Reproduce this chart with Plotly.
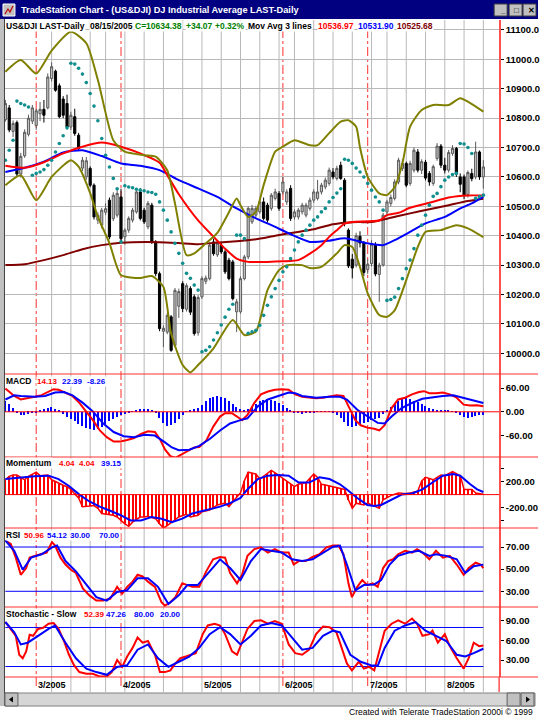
import plotly.graph_objects as go

# ---------------- data ----------------
# bar 0 = 2005-02-16 ... bar 124 = 2005-08-15 (daily trading bars)
opens = [10795, 10835, 10755, 10785, 10610, 10672, 10745, 10790, 10775, 10815,
         10830, 10835, 10935, 10960, 10910, 10865, 10850, 10770, 10805, 10742,
         10630, 10600, 10629, 10572, 10453, 10436, 10480, 10521, 10458, 10470,
         10532, 10396, 10419, 10453, 10481, 10549, 10487, 10430, 10504, 10379,
         10271, 10075, 10072, 10124, 10027, 10160, 10237, 10150, 10220, 10192,
         10070, 10192, 10245, 10254, 10379, 10335, 10368, 10345, 10317, 10311,
         10141, 10141, 10254, 10328, 10447, 10470, 10481, 10515, 10504, 10493,
         10527, 10544, 10549, 10515, 10561, 10464, 10464, 10481, 10470, 10493,
         10521, 10527, 10549, 10566, 10578, 10617, 10595, 10640, 10589, 10419,
         10320, 10300, 10398, 10375, 10285, 10305, 10370, 10268, 10300, 10481,
         10510, 10527, 10583, 10629, 10646, 10578, 10623, 10685, 10623, 10650,
         10612, 10578, 10663, 10705, 10640, 10623, 10680, 10697, 10600, 10600,
         10540, 10612, 10600, 10685, 10600]
highs = [10862, 10845, 10792, 10792, 10682, 10762, 10812, 10845, 10832, 10855,
         10862, 10952, 10990, 10965, 10918, 10875, 10880, 10822, 10832, 10750,
         10668, 10668, 10636, 10578, 10480, 10495, 10510, 10530, 10548, 10560,
         10560, 10425, 10466, 10495, 10558, 10562, 10495, 10518, 10512, 10385,
         10278, 10095, 10138, 10130, 10222, 10220, 10245, 10238, 10228, 10200,
         10198, 10262, 10265, 10376, 10390, 10382, 10378, 10352, 10325, 10318,
         10185, 10262, 10335, 10500, 10505, 10502, 10525, 10530, 10512, 10545,
         10560, 10552, 10600, 10558, 10572, 10490, 10495, 10512, 10512, 10530,
         10558, 10590, 10580, 10598, 10632, 10630, 10638, 10652, 10596, 10425,
         10338, 10410, 10415, 10382, 10320, 10385, 10378, 10308, 10478, 10522,
         10540, 10592, 10665, 10660, 10652, 10655, 10700, 10695, 10660, 10658,
         10620, 10642, 10715, 10712, 10665, 10692, 10708, 10702, 10612, 10608,
         10622, 10628, 10720, 10690, 10657]
lows = [10788, 10752, 10736, 10602, 10598, 10665, 10738, 10780, 10760, 10790,
        10785, 10830, 10925, 10890, 10800, 10800, 10762, 10760, 10740, 10690,
        10620, 10590, 10565, 10455, 10440, 10425, 10470, 10388, 10450, 10462,
        10382, 10370, 10410, 10445, 10475, 10452, 10440, 10422, 10372, 10262,
        10075, 10021, 10065, 10005, 10020, 10120, 10140, 10142, 10130, 10060,
        10060, 10185, 10235, 10248, 10332, 10328, 10338, 10270, 10248, 10180,
        10072, 10135, 10248, 10320, 10440, 10462, 10475, 10452, 10445, 10485,
        10520, 10485, 10540, 10505, 10450, 10455, 10455, 10472, 10462, 10485,
        10512, 10520, 10540, 10558, 10570, 10592, 10588, 10590, 10432, 10290,
        10255, 10292, 10360, 10262, 10270, 10296, 10262, 10175, 10295, 10472,
        10500, 10520, 10575, 10620, 10565, 10570, 10615, 10615, 10610, 10588,
        10570, 10570, 10655, 10630, 10612, 10615, 10672, 10600, 10548, 10525,
        10530, 10585, 10592, 10590, 10560]
closes = [10850, 10760, 10782, 10610, 10670, 10752, 10800, 10835, 10825, 10830,
          10810, 10940, 10975, 10895, 10805, 10810, 10770, 10810, 10748, 10697,
          10657, 10655, 10572, 10464, 10470, 10487, 10492, 10396, 10538, 10544,
          10390, 10419, 10459, 10487, 10549, 10459, 10447, 10510, 10379, 10271,
          10084, 10085, 10129, 10010, 10214, 10210, 10152, 10230, 10140, 10067,
          10190, 10254, 10256, 10368, 10339, 10375, 10345, 10277, 10254, 10186,
          10175, 10254, 10328, 10493, 10493, 10493, 10515, 10459, 10453, 10538,
          10549, 10493, 10583, 10549, 10459, 10481, 10487, 10504, 10504, 10521,
          10549, 10549, 10572, 10589, 10623, 10600, 10629, 10595, 10441, 10297,
          10290, 10400, 10375, 10275, 10303, 10371, 10270, 10300, 10470, 10515,
          10530, 10583, 10657, 10646, 10572, 10646, 10691, 10623, 10652, 10596,
          10583, 10635, 10705, 10640, 10623, 10683, 10697, 10610, 10575, 10536,
          10615, 10594, 10685, 10600, 10634]

# three moving averages (sampled along the curves)
ma_fast_bar = [0, 5, 10, 15, 20, 25, 30, 35, 40, 42, 45, 50, 55, 57, 60, 63, 68, 72, 76,
               79, 82, 84, 86, 88, 90, 97, 99, 102, 105, 110, 115, 120, 124]
ma_fast = [10638, 10631, 10650, 10680, 10703, 10717, 10703, 10680, 10648, 10606, 10541,
           10452, 10383, 10356, 10322, 10311, 10311, 10313, 10317, 10339, 10368, 10396,
           10419, 10441, 10447, 10452, 10470, 10478, 10495, 10512, 10530, 10537, 10537]
ma_mid_bar = [0, 5, 10, 15, 20, 25, 30, 35, 40, 45, 50, 55, 60, 65, 68, 70, 74, 79, 84,
              88, 94, 98, 101, 105, 109, 114, 118, 121, 124]
ma_mid = [10617, 10631, 10652, 10683, 10691, 10671, 10646, 10638, 10623, 10589, 10561,
          10532, 10493, 10459, 10442, 10430, 10405, 10379, 10383, 10391, 10374, 10368,
          10385, 10413, 10442, 10464, 10493, 10510, 10532]
ma_slow_bar = [0, 5, 10, 15, 20, 25, 30, 40, 45, 50, 55, 60, 65, 70, 75, 80, 85, 90, 95,
               100, 105, 110, 115, 120, 124]
ma_slow = [10300, 10303, 10317, 10334, 10354, 10368, 10376, 10378, 10375, 10371, 10377,
           10381, 10388, 10400, 10411, 10422, 10439, 10446, 10447, 10461, 10476, 10490,
           10504, 10518, 10526]

# bollinger bands
bb_up_bar = [0, 4, 8, 12, 17, 21, 24, 28, 31, 36, 39, 42, 44, 47, 49, 52, 55, 58, 60, 61,
             63, 65, 67, 70, 72, 75, 79, 81, 84, 87, 89, 91, 92, 94, 97, 99, 101, 103, 105,
             108, 111, 115, 118, 120, 124]
bb_up = [10958, 10998, 10952, 11030, 11094, 11055, 10930, 10725, 10686, 10674, 10669,
         10623, 10510, 10334, 10340, 10374, 10410, 10480, 10527, 10504, 10464, 10481,
         10572, 10686, 10703, 10725, 10708, 10708, 10749, 10788, 10793, 10771, 10700,
         10600, 10544, 10538, 10566, 10646, 10771, 10828, 10845, 10845, 10868, 10856, 10822]
bb_dn_bar = [0, 4, 8, 12, 17, 19, 22, 24, 27, 30, 35, 38, 41, 43, 46, 48, 50, 54, 59, 62,
             65, 68, 71, 73, 77, 79, 82, 86, 88, 90, 92, 94, 97, 99, 101, 104, 107, 109,
             113, 117, 120, 124]
bb_dn = [10572, 10606, 10521, 10600, 10657, 10635, 10545, 10464, 10375, 10266, 10256,
         10263, 10226, 10067, 9960, 9935, 9960, 10017, 10113, 10062, 10074, 10215, 10283,
         10300, 10300, 10290, 10294, 10340, 10368, 10362, 10294, 10204, 10130, 10124,
         10146, 10249, 10362, 10413, 10419, 10436, 10425, 10395]

# parabolic SAR, one dot per bar
sar = [10657, 10691, 10725, 10858, 10850, 10845, 10838, 10606, 10612, 10617,
       10625, 10640, 10657, 10685, 10714, 10740, 10767, 10987, 10984, 10970,
       10950, 10921, 10884, 10841, 10791, 10731, 10674, 10634, 10595, 10560,
       10379, 10570, 10566, 10563, 10558, 10555, 10553, 10549, 10547, 10541,
       10515, 10487, 10453, 10413, 10374, 10340, 10306, 10272, 10255, 10232,
       10215, 10005, 10010, 10022, 10045, 10070, 10096, 10123, 10150, 10167,
       10402, 10402, 10390, 10068, 10073, 10078, 10095, 10129, 10163, 10192,
       10220, 10248, 10277, 10294, 10322, 10351, 10379, 10402, 10419, 10436,
       10453, 10464, 10481, 10493, 10515, 10530, 10545, 10560, 10660, 10657,
       10646, 10630, 10617, 10600, 10578, 10555, 10532, 10515, 10487, 10180,
       10183, 10191, 10220, 10254, 10288, 10317, 10356, 10402, 10436, 10470,
       10504, 10534, 10544, 10567, 10589, 10600, 10608, 10612, 10714, 10712,
       10700, 10680, 10527, 10533, 10538]

# MACD
macd_bar = [0.0, 2.3, 4.0, 5.8, 7.6, 9.4, 11.2, 12.5, 13.8, 15.6, 17.4, 19.2, 21.0, 22.7,
            24.5, 26.3, 28.1, 29.9, 31.6, 33.4, 35.2, 37.0, 38.8, 40.1, 41.4, 42.8, 44.1,
            45.4, 47.2, 49.0, 50.3, 52.1, 53.9, 55.7, 57.0, 58.8, 60.1, 61.4, 62.8, 64.6,
            66.3, 68.1, 69.9, 71.7, 73.5, 75.2, 77.0, 78.8, 80.6, 82.4, 84.1, 85.9, 87.7,
            88.6, 89.5, 90.8, 92.2, 93.9, 95.7, 97.0, 98.4, 100.2, 101.9, 103.7, 105.5,
            107.3, 108.6, 110.0, 111.7, 113.5, 115.3, 117.1, 118.9, 120.6, 122.4, 124.0]
macd = [59, 40, 31, 34, 38, 42, 50, 57, 55.5, 48.6, 40, 22.5, 1, -21, -47, -64, -75, -75,
        -71, -66, -56, -49, -51, -69, -95, -112, -116, -109, -99, -90, -89, -73, -38, -12,
        -3.5, -3.5, -12, -21, -8, 22.5, 44, 51, 55.5, 57, 55.5, 44, 38, 35.5, 34, 35.5, 38,
        41.6, 40, 22.5, 1, -21, -34, -40, -42.6, -47, -34, 9.5, 31, 35.5, 44, 50, 52, 47,
        47, 48.6, 44, 35.5, 18, 15.6, 16.4, 14.1]
macd_sig_bar = [0.0, 2.3, 4.0, 7.6, 10.3, 12.9, 15.2, 17.4, 20.1, 22.7, 25.4, 28.1, 30.7,
                33.4, 36.1, 38.8, 41.4, 43.2, 45.0, 47.7, 50.3, 53.0, 55.7, 58.3, 61.0,
                62.8, 65.5, 68.1, 70.8, 73.5, 75.2, 77.0, 80.6, 84.1, 86.8, 88.6, 91.3,
                93.9, 96.6, 98.4, 100.2, 102.8, 105.5, 108.2, 110.8, 113.5, 116.2, 118.9,
                121.5, 124.0]
macd_sig = [31, 41.6, 40, 38, 40, 48.6, 50, 41.6, 22.5, 1, -29.6, -51, -61.7, -64, -58,
            -60, -77, -90, -97, -95.5, -86, -68.6, -47, -29.6, -21, -16.5, 13.8, 31, 40,
            48.6, 47, 40, 35.5, 38, 38, 31, 5, -12, -28, -29.6, -12, 9.5, 22.5, 33, 37, 40,
            41.6, 35.5, 28.6, 22.4]
macd_hist = [28, 20, 10, -3, -8, -8, -5, -3, -1, 3, 6, 9, 12, 8, 3, -5, -12, -18, -24, -30,
             -36, -40, -44, -47, -44, -38, -30, -24, -18, -12, -8, -6, -4, 2, 5, 7, 8, 7, 4,
             -4, -15, -28, -35, -33, -28, -18, -8, 2, 5, 6, 10, 18, 26, 34, 38, 40, 38, 35,
             28, 20, 12, 8, 5, 8, 12, 20, 26, 30, 32, 30, 26, 22, 16, 10, 4, -2, -4, -5, -4,
             -3, -2, 1, 2, 2, 1, -3, -8, -15, -25, -35, -38, -35, -30, -28, -25, -20, -18,
             -15, -5, 5, 12, 20, 28, 33, 35, 32, 28, 24, 20, 15, 10, 6, 5, 4, 4, 3, 1, -3,
             -8, -14, -16, -12, -10, -9, -8]

# Momentum (one value per bar) and its average
momentum = [226, 279, 300, 300, 263, 226, 280, 315, 342, 289, 295, 300, 226, 195, 165, 142,
            121, 79, 10, -52, -184, -184, -175, -168, -210, -289, -295, -300, -315, -342,
            -400, -447, -484, -421, -380, -342, -342, -331, -350, -368, -447, -510, -473,
            -430, -394, -342, -320, -300, -342, -330, -315, -263, -250, -237, -200, -158,
            -145, -131, -184, -105, -40, 26, 210, 342, 330, 315, 237, 280, 315, 368, 330,
            289, 247, 210, 165, 121, 158, 170, 184, 250, 315, 263, 158, 145, 131, 118, 105,
            92, 79, -79, -210, -131, -145, -158, -131, -158, -184, -210, -79, -45, -16, 5,
            26, 20, 16, 26, 40, 53, 210, 263, 245, 226, 263, 300, 289, 320, 352, 320, 289,
            79, 79, 79, 26, 15, 4]
mom_avg_bar = [0.0, 4.0, 7.6, 11.2, 13.8, 16.5, 19.2, 21.8, 24.5, 27.2, 29.9, 32.5, 35.2,
               37.9, 40.5, 43.2, 45.9, 48.5, 52.1, 55.7, 58.3, 61.0, 62.8, 65.5, 68.1, 70.8,
               73.5, 76.1, 78.8, 81.5, 84.1, 86.8, 88.6, 91.3, 93.9, 95.7, 97.5, 100.2,
               102.8, 105.5, 108.2, 110.8, 113.5, 116.2, 118.0, 120.6, 122.4, 124.0]
mom_avg = [237, 263, 279, 289, 237, 131, 0, -105, -184, -247, -315, -394, -394, -342, -368,
           -421, -368, -289, -237, -184, -131, -52, 79, 237, 289, 300, 289, 184, 184, 263,
           237, 158, 79, -52, -158, -173, -158, -79, 0, 16, 79, 184, 289, 315, 289, 158, 79,
           39]

# RSI
rsi_bar = [0.0, 1.4, 2.7, 4.0, 5.4, 6.3, 7.6, 9.4, 10.7, 12.1, 12.9, 14.3, 15.6, 17.0,
           18.3, 20.1, 21.8, 23.6, 25.4, 27.2, 29.0, 30.3, 31.6, 33.0, 34.3, 35.6, 37.0,
           38.8, 40.5, 41.4, 42.8, 44.1, 45.9, 47.2, 48.5, 50.3, 52.1, 53.9, 55.7, 57.0,
           58.3, 60.1, 61.4, 62.8, 64.6, 66.3, 68.1, 69.9, 71.7, 73.5, 74.8, 76.1, 77.9,
           79.7, 81.5, 83.3, 85.0, 86.4, 87.7, 89.0, 89.9, 91.3, 92.6, 93.9, 95.3, 96.6,
           98.0, 99.3, 100.6, 101.9, 103.7, 105.5, 106.8, 108.2, 110.0, 111.7, 113.5,
           115.3, 117.1, 118.9, 120.2, 122.0, 123.3, 124.0]
rsi = [75.9, 72.8, 60.4, 44.9, 51.0, 60.4, 62.0, 63.5, 65.0, 74.4, 71.3, 60.4, 54.2, 49.5,
       46.5, 32.5, 26.3, 21.6, 21.6, 23.2, 34.0, 27.9, 34.0, 38.7, 44.9, 43.4, 38.7, 34.0,
       20.1, 17.0, 20.1, 24.7, 37.2, 35.6, 34.0, 34.0, 48.0, 58.9, 61.0, 60.4, 46.5, 37.2,
       44.9, 62.0, 68.1, 69.7, 65.0, 68.1, 65.0, 65.0, 54.2, 57.3, 57.3, 61.0, 63.5, 69.7,
       71.3, 71.3, 63.5, 37.2, 24.7, 34.0, 40.2, 35.6, 37.2, 34.0, 51.0, 57.3, 58.9, 63.5,
       66.6, 65.0, 68.1, 65.0, 58.9, 66.6, 60.4, 62.0, 54.2, 44.9, 51.0, 55.8, 54.2, 51.0]
rsi_avg_bar = [0.0, 2.3, 4.5, 6.7, 9.4, 12.1, 13.4, 15.6, 18.3, 21.0, 23.6, 26.3, 29.0,
               31.6, 34.3, 37.0, 39.6, 42.3, 45.0, 47.2, 49.9, 53.0, 55.7, 58.3, 61.0, 63.7,
               66.3, 69.0, 71.7, 74.4, 77.0, 79.7, 82.4, 85.0, 86.8, 88.6, 90.8, 93.0, 95.7,
               97.5, 99.7, 101.9, 104.6, 107.3, 110.0, 111.7, 114.4, 117.1, 119.3, 121.5,
               124.0]
rsi_avg = [75.9, 66.6, 49.5, 60.4, 63.5, 69.7, 71.3, 57.3, 48.0, 35.6, 24.7, 21.6, 29.4,
           31.0, 41.8, 41.8, 34.0, 18.6, 26.3, 35.6, 35.6, 48.0, 58.9, 51.0, 40.2, 57.3,
           68.1, 66.6, 65.0, 58.9, 57.3, 58.9, 65.0, 70.3, 71.3, 54.2, 30.9, 35.6, 36.2,
           40.2, 54.2, 62.0, 65.0, 66.6, 62.0, 63.5, 62.0, 58.9, 46.5, 52.7, 54.1]
rsi_levels = [30.0, 70.0]

# Stochastic slow
stk_bar = [0.0, 1.4, 2.7, 3.6, 4.5, 5.4, 6.3, 7.2, 8.5, 9.8, 11.2, 12.5, 13.8, 15.2, 16.5,
           17.8, 19.2, 21.0, 22.7, 24.5, 26.3, 27.6, 29.0, 30.3, 31.6, 33.0, 34.3, 35.6,
           37.0, 38.8, 40.1, 41.4, 42.8, 44.1, 45.4, 46.8, 48.1, 49.4, 51.2, 52.5, 54.3,
           55.7, 57.0, 58.8, 60.1, 61.4, 62.8, 64.6, 66.3, 68.1, 69.9, 71.7, 73.5, 75.2,
           77.0, 78.8, 80.6, 82.4, 84.1, 85.9, 87.3, 88.6, 89.9, 91.7, 93.0, 94.4, 95.7,
           97.0, 98.4, 100.2, 101.9, 103.7, 105.5, 106.8, 108.2, 110.0, 110.8, 112.2, 114.0,
           115.3, 117.1, 118.9, 120.2, 121.5, 122.9, 124.0]
stk = [88.4, 77.8, 67.2, 38.0, 32.7, 43.3, 68.8, 67.2, 77.8, 79.4, 85.8, 86.8, 77.8, 59.2,
       38.0, 22.0, 11.4, 8.8, 8.8, 4.5, 4.5, 11.4, 30.0, 19.4, 35.3, 48.6, 64.5, 56.6, 59.2,
       38.0, 11.4, 11.4, 14.0, 24.7, 32.7, 35.3, 38.0, 40.6, 69.8, 83.1, 85.8, 83.1, 69.8,
       43.3, 38.0, 56.6, 77.8, 90.0, 91.0, 85.8, 90.0, 85.8, 53.9, 40.6, 38.0, 45.9, 69.8,
       81.5, 80.5, 72.5, 48.6, 24.7, 14.0, 27.3, 16.7, 19.4, 14.0, 43.3, 75.1, 85.8, 91.0,
       85.8, 93.7, 85.8, 67.2, 69.8, 75.1, 56.6, 69.8, 51.3, 32.7, 16.7, 32.7, 56.6, 51.3,
       52.4]
std_bar = [0.0, 2.3, 4.0, 5.8, 8.5, 11.2, 12.9, 15.6, 18.3, 21.0, 23.6, 26.3, 29.0, 31.6,
           34.3, 37.0, 39.6, 42.3, 45.0, 47.7, 50.3, 53.0, 55.7, 58.3, 61.0, 63.7, 66.3,
           69.0, 71.7, 74.4, 77.0, 79.7, 82.4, 85.0, 86.8, 89.5, 92.2, 94.8, 96.6, 98.4,
           101.0, 103.7, 106.4, 109.0, 111.7, 114.4, 117.1, 119.3, 121.5, 124.0]
std = [88.4, 72.5, 53.9, 56.6, 67.2, 77.8, 83.1, 56.6, 32.7, 16.7, 11.4, 7.2, 19.4, 22.0,
       45.9, 53.9, 32.7, 19.4, 27.3, 35.3, 48.6, 69.8, 80.5, 69.8, 53.9, 67.2, 83.1, 86.8,
       83.1, 64.5, 45.9, 48.6, 67.2, 75.1, 72.5, 38.0, 27.3, 22.0, 21.0, 48.6, 75.1, 83.1,
       88.4, 75.1, 67.2, 59.2, 38.0, 35.3, 40.6, 47.3]
stoch_levels = [20.0, 80.0]

# axis / calendar
month_bars = [8, 30, 51, 72, 94, 114]
month_labels = ['3/2005', '4/2005', '5/2005', '6/2005', '7/2005', '8/2005']
week_bars = [12, 17, 22, 26, 31, 36, 41, 46, 51, 56, 61, 66, 71, 75, 80, 85, 90, 95, 99,
             104, 109, 114, 119, 124]
red_marker_bars = [8, 30, 72, 94]

price_ticks = [10000, 10100, 10200, 10300, 10400, 10500, 10600, 10700, 10800, 10900,
               11000, 11100]
macd_ticks = [60, 0, -60]
mom_ticks = [400, 200, -200, -400]
rsi_ticks = [70, 50, 30]
stoch_ticks = [90, 60, 30]

# ---------------- figure ----------------
W, H = 540, 718
FONT = "Liberation Sans, Arial, sans-serif"
RED = '#ff0000'
BLUE = '#0000ff'
DKRED = '#800000'
OLIVE = '#808000'
GRID = '#b8b8b8'


def fx(p):
    return p / W


def fy(p):
    return 1 - p / H


bars = list(range(len(closes)))
fig = go.Figure()

fig.add_trace(go.Candlestick(
    x=bars, open=opens, high=highs, low=lows, close=closes,
    increasing=dict(line=dict(color='#5a5a5a', width=1), fillcolor='#c4c4c4'),
    decreasing=dict(line=dict(color='#000000', width=1), fillcolor='#000000'),
    whiskerwidth=0, xaxis='x', yaxis='y', showlegend=False, hoverinfo='skip'))

for bx, vals, col in [(ma_slow_bar, ma_slow, DKRED), (ma_mid_bar, ma_mid, BLUE),
                      (ma_fast_bar, ma_fast, RED), (bb_up_bar, bb_up, OLIVE),
                      (bb_dn_bar, bb_dn, OLIVE)]:
    fig.add_trace(go.Scatter(x=bx, y=vals, mode='lines',
                             line=dict(color=col, width=2, shape='spline', smoothing=0.6),
                             xaxis='x', yaxis='y', showlegend=False, hoverinfo='skip'))

fig.add_trace(go.Scatter(x=bars, y=sar, mode='markers',
                         marker=dict(color='#118e8e', size=3.6, symbol='circle'),
                         xaxis='x', yaxis='y', showlegend=False, hoverinfo='skip'))

# MACD
fig.add_trace(go.Bar(x=bars, y=macd_hist, width=0.35, marker=dict(color=BLUE, line=dict(width=0)),
                     xaxis='x', yaxis='y2', showlegend=False, hoverinfo='skip'))
fig.add_trace(go.Scatter(x=macd_bar, y=macd, mode='lines', line=dict(color=RED, width=2),
                         xaxis='x', yaxis='y2', showlegend=False, hoverinfo='skip'))
fig.add_trace(go.Scatter(x=macd_sig_bar, y=macd_sig, mode='lines', line=dict(color=BLUE, width=2),
                         xaxis='x', yaxis='y2', showlegend=False, hoverinfo='skip'))

# Momentum
fig.add_trace(go.Bar(x=bars, y=momentum, width=0.3, marker=dict(color=RED, line=dict(width=0)),
                     xaxis='x', yaxis='y3', showlegend=False, hoverinfo='skip'))
fig.add_trace(go.Scatter(x=bars, y=momentum, mode='lines', line=dict(color=RED, width=1.5),
                         xaxis='x', yaxis='y3', showlegend=False, hoverinfo='skip'))
fig.add_trace(go.Scatter(x=mom_avg_bar, y=mom_avg, mode='lines', line=dict(color=BLUE, width=2),
                         xaxis='x', yaxis='y3', showlegend=False, hoverinfo='skip'))

# RSI
fig.add_trace(go.Scatter(x=rsi_bar, y=rsi, mode='lines', line=dict(color=RED, width=2),
                         xaxis='x', yaxis='y4', showlegend=False, hoverinfo='skip'))
fig.add_trace(go.Scatter(x=rsi_avg_bar, y=rsi_avg, mode='lines', line=dict(color=BLUE, width=2),
                         xaxis='x', yaxis='y4', showlegend=False, hoverinfo='skip'))

# Stochastic
fig.add_trace(go.Scatter(x=stk_bar, y=stk, mode='lines', line=dict(color=RED, width=2),
                         xaxis='x', yaxis='y5', showlegend=False, hoverinfo='skip'))
fig.add_trace(go.Scatter(x=std_bar, y=std, mode='lines', line=dict(color=BLUE, width=2),
                         xaxis='x', yaxis='y5', showlegend=False, hoverinfo='skip'))


def yax(top, bottom, rng, tickvals, ticktext, grid=False):
    return dict(domain=[fy(bottom), fy(top)], range=rng, side='right', anchor='x',
                tickvals=tickvals, ticktext=ticktext, ticks='outside', ticklen=3,
                tickcolor='black', tickwidth=1,
                tickfont=dict(family=FONT, size=9.5, color='black', weight='bold'),
                showline=True, linecolor='#ff5050', linewidth=1.5,
                showgrid=grid, gridcolor=GRID, gridwidth=1, zeroline=False, fixedrange=True)


shapes = []
# weekly grid
for b in week_bars:
    shapes.append(dict(type='line', xref='x', yref='paper', x0=b, x1=b, y0=fy(692), y1=fy(20),
                       line=dict(color=GRID, width=1), layer='below'))
# month marker lines
for b in red_marker_bars:
    shapes.append(dict(type='line', xref='x', yref='paper', x0=b, x1=b, y0=fy(686), y1=fy(20),
                       line=dict(color='#ff3030', width=1, dash='dashdot'), layer='below'))
# zero lines
shapes.append(dict(type='line', xref='paper', yref='y2', x0=fx(5), x1=fx(501), y0=0, y1=0,
                   line=dict(color=RED, width=1)))
shapes.append(dict(type='line', xref='paper', yref='y3', x0=fx(5), x1=fx(501), y0=0, y1=0,
                   line=dict(color=RED, width=1)))
# RSI / stochastic levels
for lv in rsi_levels:
    shapes.append(dict(type='line', xref='x', yref='y4', x0=bars[0], x1=bars[-1], y0=lv, y1=lv,
                       line=dict(color=BLUE, width=1), layer='below'))
for lv in stoch_levels:
    shapes.append(dict(type='line', xref='x', yref='y5', x0=bars[0], x1=bars[-1], y0=lv, y1=lv,
                       line=dict(color=BLUE, width=1), layer='below'))
# panel separators
for yy in [374, 457, 528, 607, 677]:
    shapes.append(dict(type='line', xref='paper', yref='paper', x0=fx(5), x1=1, y0=fy(yy),
                       y1=fy(yy), line=dict(color='#ff3030', width=1)))
shapes.append(dict(type='line', xref='paper', yref='paper', x0=fx(501), x1=fx(501),
                   y0=fy(692), y1=fy(677), line=dict(color='#ff5050', width=1.5)))

# window chrome
shapes.append(dict(type='rect', xref='paper', yref='paper', x0=0, x1=1, y0=fy(19), y1=1,
                   fillcolor='#000080', line=dict(width=0)))
shapes.append(dict(type='rect', xref='paper', yref='paper', x0=fx(3), x1=fx(15), y0=fy(16),
                   y1=fy(4), fillcolor='#c0c0c0', line=dict(color='#ffffff', width=1)))
shapes.append(dict(type='path', xref='paper', yref='paper',
                   path=f'M {fx(5)} {fy(14)} L {fx(8)} {fy(9)} L {fx(10)} {fy(12)} L {fx(13)} {fy(6)}',
                   line=dict(color='#c00000', width=1.2)))
for bx0 in [496, 511, 525]:
    shapes.append(dict(type='rect', xref='paper', yref='paper', x0=fx(bx0), x1=fx(bx0 + 13),
                       y0=fy(16), y1=fy(4), fillcolor='#c0c0c0',
                       line=dict(color='#404040', width=1)))
shapes.append(dict(type='rect', xref='paper', yref='paper', x0=0, x1=fx(4), y0=fy(706),
                   y1=fy(19), fillcolor='#c0c0c0', line=dict(width=0)))
shapes.append(dict(type='line', xref='paper', yref='paper', x0=fx(4.5), x1=fx(4.5),
                   y0=fy(706), y1=fy(19), line=dict(color='#404040', width=1)))
# scrollbar
shapes.append(dict(type='rect', xref='paper', yref='paper', x0=fx(5), x1=fx(537), y0=fy(706),
                   y1=fy(693), fillcolor='#d6d6d6', line=dict(color='#808080', width=1)))
for bx0 in [5, 509, 523]:
    shapes.append(dict(type='rect', xref='paper', yref='paper', x0=fx(bx0), x1=fx(bx0 + 13),
                       y0=fy(706), y1=fy(693), fillcolor='#c0c0c0',
                       line=dict(color='#606060', width=1)))
shapes.append(dict(type='path', xref='paper', yref='paper',
                   path=f'M {fx(9)} {fy(699.5)} L {fx(13)} {fy(696.5)} L {fx(13)} {fy(702.5)} Z',
                   fillcolor='black', line=dict(width=0)))
shapes.append(dict(type='path', xref='paper', yref='paper',
                   path=f'M {fx(532)} {fy(699.5)} L {fx(528)} {fy(696.5)} L {fx(528)} {fy(702.5)} Z',
                   fillcolor='black', line=dict(width=0)))

ann = []


def label(text, x, y, color='black', size=8.5, bold=True, anchor='left', bg=None):
    t = f'<b>{text}</b>' if bold else text
    d = dict(text=t, x=fx(x), y=fy(y), xref='paper', yref='paper', xanchor=anchor,
             yanchor='middle', showarrow=False,
             font=dict(family=FONT, size=size, color=color))
    if bg:
        d['bgcolor'] = bg
        d['borderpad'] = 0
    ann.append(d)


label('TradeStation Chart - (US&DJI) DJ Industrial Average LAST-Daily', 19, 10, '#ffffff', 9.2)
for txt, x in [('_', 499.5, ), ('□', 513.5), ('✕', 527.5)]:
    label(txt, x, 10, 'black', 8)

header = [('US&DJI LAST-Daily', 5, 'black'), ('08/15/2005', 89, 'black'),
          ('C=10634.38', 134, '#008000'), ('+34.07', 186, '#008000'),
          ('+0.32%', 215, '#008000'), ('Mov Avg 3 lines', 248, 'black'),
          ('10536.97', 318, RED), ('10531.90', 358, BLUE), ('10525.68', 397, DKRED)]
for txt, x, c in header:
    label(txt, x, 26, c, 8.5, bg='white')

for row, y in [([('MACD', 5, 'black'), ('14.13', 36, RED), ('22.39', 61, BLUE),
                 ('-8.26', 86, BLUE)], 381),
               ([('Momentum', 5, 'black'), ('4.04', 58, RED), ('4.04', 78, RED),
                 ('39.15', 100, BLUE)], 463),
               ([('RSI', 5, 'black'), ('50.96', 23, RED), ('54.12', 46, BLUE),
                 ('30.00', 69, BLUE), ('70.00', 98, BLUE)], 535),
               ([('Stochastic - Slow', 5, 'black'), ('52.39', 83, RED), ('47.26', 105, BLUE),
                 ('80.00', 133, BLUE), ('20.00', 160, BLUE)], 614)]:
    for k, (txt, x, c) in enumerate(row):
        label(txt, x, y, c, 8.5 if k == 0 else 8, bg='white')

for b, t in zip(month_bars, month_labels):
    ann.append(dict(text=f'<b>{t}</b>', x=b, y=fy(685), xref='x', yref='paper',
                    xanchor='left', yanchor='middle', showarrow=False,
                    font=dict(family=FONT, size=9, color='black')))

label('Created with Telerate TradeStation 2000i © 1999', 537, 712, 'black', 8.5, bold=False,
      anchor='right')

fig.update_layout(
    width=W, height=H, margin=dict(l=0, r=0, t=0, b=0),
    paper_bgcolor='white', plot_bgcolor='white', showlegend=False, bargap=0, boxgap=0.2,
    xaxis=dict(domain=[fx(5), fx(501)], range=[-0.1, 128.1], anchor='y5',
               showticklabels=False, showgrid=False, zeroline=False, showline=False,
               ticks='', fixedrange=True, rangeslider=dict(visible=False)),
    yaxis=yax(20, 374, [9929.5, 11134], price_ticks, [f'{v:.1f}' for v in price_ticks], True),
    yaxis2=yax(374, 457, [-114, 95.3], macd_ticks, [f'{v:.2f}' for v in macd_ticks]),
    yaxis3=yax(457, 528, [-510, 574], mom_ticks, ['', '200.00', '-200.00', '']),
    yaxis4=yax(528, 607, [15.8, 87.2], rsi_ticks, [f'{v:.2f}' for v in rsi_ticks]),
    yaxis5=yax(607, 677, [3.85, 111.5], stoch_ticks, [f'{v:.2f}' for v in stoch_ticks]),
    shapes=shapes, annotations=ann,
)

fig.write_html("out.html", config=dict(displayModeBar=False),
               post_script="document.body.style.margin='0px';"
                           "document.body.style.overflow='hidden';")
